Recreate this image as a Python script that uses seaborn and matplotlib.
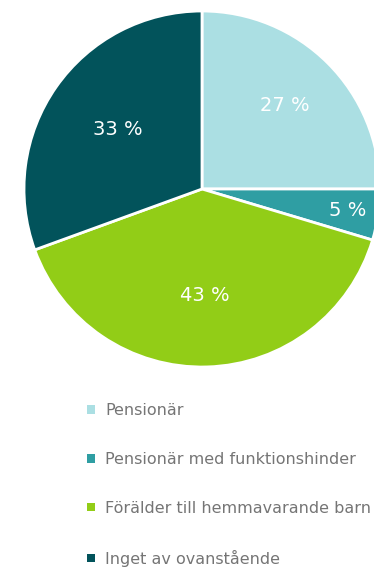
import matplotlib
matplotlib.use("Agg")
import matplotlib.pyplot as plt
import seaborn as sns
import numpy as np
from matplotlib.patches import Patch

# Survey answer groups and their shares (percent)
categories = [
    "Pensionär",
    "Pensionär med funktionshinder",
    "Förälder till hemmavarande barn",
    "Inget av ovanstående",
]
shares = [27, 5, 43, 33]
pct_labels = ["27 %", "5 %", "43 %", "33 %"]
colors = ["#abdfe3", "#2f9ea3", "#92cd17", "#02535b"]

sns.set_theme(style="white")
plt.rcParams["font.family"] = ["DejaVu Sans"]

W, H = 374, 570
fig = plt.figure(figsize=(W / 100, H / 100), dpi=100)
fig.patch.set_facecolor("white")

# Pie placed in pixel terms: centre and radius
cx, cy, r = 202, 189, 178
ax = fig.add_axes([(cx - r) / W, (H - cy - r) / H, 2 * r / W, 2 * r / H])
wedges, _ = ax.pie(
    shares,
    colors=colors,
    startangle=90,
    counterclock=False,
    radius=1,
    wedgeprops=dict(edgecolor="white", linewidth=2),
)
ax.set_xlim(-1, 1)
ax.set_ylim(-1, 1)
ax.set_aspect("equal")
ax.axis("off")

# Percentage labels inside each wedge
label_r = [0.66, 0.83, 0.6, 0.58]
for w, txt, lr in zip(wedges, pct_labels, label_r):
    ang = np.deg2rad((w.theta1 + w.theta2) / 2)
    ax.text(lr * np.cos(ang), lr * np.sin(ang), txt, ha="center", va="center",
            color="white", fontsize=14)

handles = [Patch(facecolor=c, edgecolor="none") for c in colors]
fig.legend(
    handles, categories,
    loc="upper left",
    bbox_to_anchor=(87 / W, 1 - 403 / H),
    frameon=False,
    fontsize=11.5,
    handlelength=0.47,
    handleheight=0.47,
    handletextpad=0.65,
    labelspacing=2.12,
    labelcolor="#757575",
    borderaxespad=0,
    borderpad=0,
)

fig.savefig("out.png", dpi=100, facecolor="white")
